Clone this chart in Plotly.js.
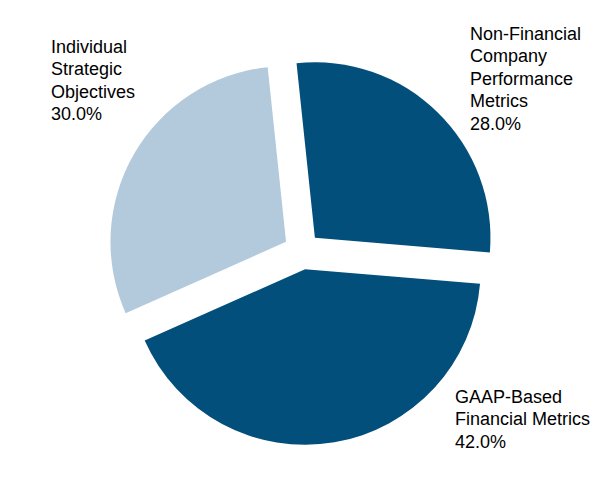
<!DOCTYPE html>
<html>
<head>
<meta charset="utf-8">
<script src="https://cdn.plot.ly/plotly-3.0.1.min.js"></script>
<style>
  html, body { margin: 0; padding: 0; background: #fff; }
  #chart { width: 604px; height: 500px; }
</style>
</head>
<body>
<div id="chart"></div>
<script>
// Slice order runs clockwise from just left of 12 o'clock
const categories = [
  "Non-Financial Company Performance Metrics",
  "GAAP-Based Financial Metrics",
  "Individual Strategic Objectives"
];
const labelLines = [
  ["Non-Financial", "Company", "Performance", "Metrics"],
  ["GAAP-Based", "Financial Metrics"],
  ["Individual", "Strategic", "Objectives"]
];
const shares = [28.0, 42.0, 30.0];
const sliceColors = ["#024f7b", "#024f7b", "#b3c9dc"];

// Label anchor (top-left corner) in pixel coordinates of the 604x500 canvas
const labelAnchors = [[468, 22], [453, 385], [49, 35]];
const lineStep = 22.4;

const W = 604, H = 500;

// One annotation per text line so the line pitch can be set exactly
const annotations = [];
categories.forEach((c, i) => {
  const lines = labelLines[i].concat([shares[i].toFixed(1) + "%"]);
  lines.forEach((txt, k) => {
    annotations.push({
      xref: "paper", yref: "paper",
      x: labelAnchors[i][0] / W,
      y: 1 - (labelAnchors[i][1] + k * lineStep) / H,
      xanchor: "left", yanchor: "top", align: "left",
      showarrow: false,
      text: txt,
      font: { family: "Liberation Sans, Arial, sans-serif", size: 18, color: "#000" }
    });
  });
});

const trace = {
  type: "pie",
  labels: categories,
  values: shares,
  sort: false,
  direction: "clockwise",
  rotation: -6,
  pull: [0.105, 0.105, 0.105],
  marker: { colors: sliceColors, line: { width: 0 } },
  textinfo: "none",
  hoverinfo: "none",
  showlegend: false,
  domain: { x: [108 / W, 496 / W], y: [1 - 445 / H, 1 - 57 / H] }
};

Plotly.newPlot("chart", [trace], {
  width: W, height: H,
  margin: { l: 0, r: 0, t: 0, b: 0 },
  paper_bgcolor: "#fff",
  showlegend: false,
  annotations: annotations
}, { displayModeBar: false, staticPlot: true });
</script>
</body>
</html>
